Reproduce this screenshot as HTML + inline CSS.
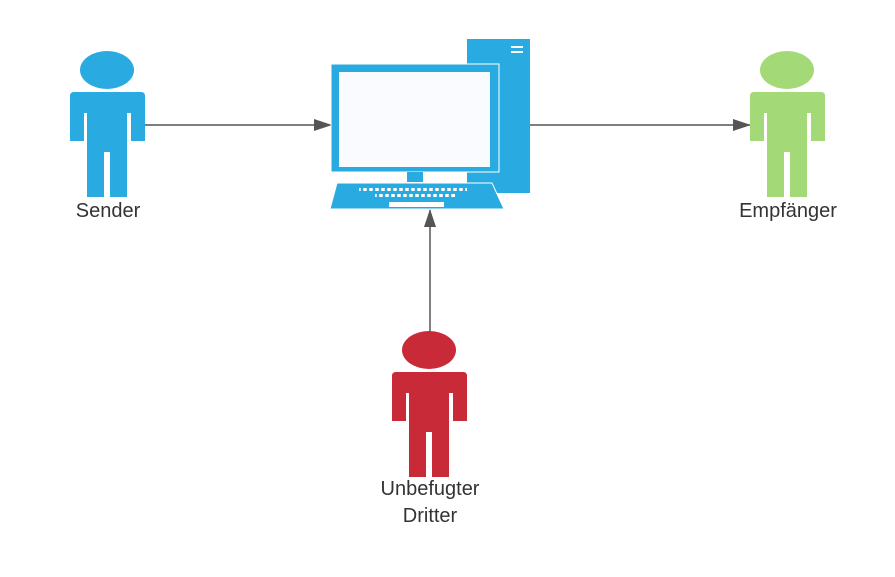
<!DOCTYPE html>
<html><head><meta charset="utf-8"><style>
html,body{margin:0;padding:0;background:#fff;}
svg text{font-family:"Liberation Sans",sans-serif;font-size:20px;fill:#333;}
</style></head><body>
<svg width="895" height="572" viewBox="0 0 895 572" xmlns="http://www.w3.org/2000/svg">
<defs>
<g id="person">
<ellipse cx="37" cy="18" rx="27" ry="19"/>
<path d="M4 40 H71 Q75 40 75 44 V89 H61 V61 H57 V145 H40 V100 H34 V145 H17 V61 H14 V89 H0 V44 Q0 40 4 40 Z"/>
</g>
<marker id="ah" markerWidth="18" markerHeight="12" refX="17" refY="6" orient="auto" markerUnits="userSpaceOnUse">
<path d="M0 0 L18 6 L0 12 Z" fill="#555"/>
</marker>
</defs>
<line x1="145" y1="125" x2="331" y2="125" stroke="#555" stroke-width="1.5" marker-end="url(#ah)"/>
<line x1="530" y1="125" x2="750" y2="125" stroke="#555" stroke-width="1.5" marker-end="url(#ah)"/>
<line x1="430" y1="332" x2="430" y2="210" stroke="#555" stroke-width="1.5" marker-end="url(#ah)"/>
<g fill="#29abe2"><use href="#person" x="70" y="52"/></g>
<g fill="#a3d977"><use href="#person" x="750" y="52"/></g>
<g fill="#c92a37"><use href="#person" x="392" y="332"/></g>
<rect x="467" y="39" width="63" height="154" fill="#29abe2"/>
<rect x="511" y="46" width="12" height="2" fill="#fff"/>
<rect x="511" y="51" width="12" height="2" fill="#fff"/>
<rect x="331" y="64" width="168" height="108" fill="#29abe2" stroke="#fff" stroke-width="1"/>
<rect x="339" y="72" width="151" height="95" fill="#f9fbfe"/>
<rect x="407" y="172" width="16" height="10" fill="#29abe2"/>
<path d="M337 183 H492 L504 209 H330 Z" fill="#29abe2" stroke="#fff" stroke-width="1"/>
<g fill="#fff">
<rect x="359" y="188" width="108" height="3"/>
<rect x="375" y="194" width="80" height="3"/>
<rect x="389" y="202" width="55" height="5"/>
</g>
<g stroke="#29abe2" stroke-width="2.5">
<path d="M362 188 v4 M368 188 v4 M374 188 v4 M380 188 v4 M386 188 v4 M392 188 v4 M398 188 v4 M404 188 v4 M410 188 v4 M416 188 v4 M422 188 v4 M428 188 v4 M434 188 v4 M440 188 v4 M446 188 v4 M452 188 v4 M458 188 v4 M464 188 v4"/>
<path d="M378 194 v4 M384 194 v4 M390 194 v4 M396 194 v4 M402 194 v4 M408 194 v4 M414 194 v4 M420 194 v4 M426 194 v4 M432 194 v4 M438 194 v4 M444 194 v4 M450 194 v4"/>
</g>
<text x="108" y="217" text-anchor="middle">Sender</text>
<text x="788" y="217" text-anchor="middle">Empfänger</text>
<text x="430" y="495" text-anchor="middle">Unbefugter</text>
<text x="430" y="522" text-anchor="middle">Dritter</text>
</svg>
</body></html>
